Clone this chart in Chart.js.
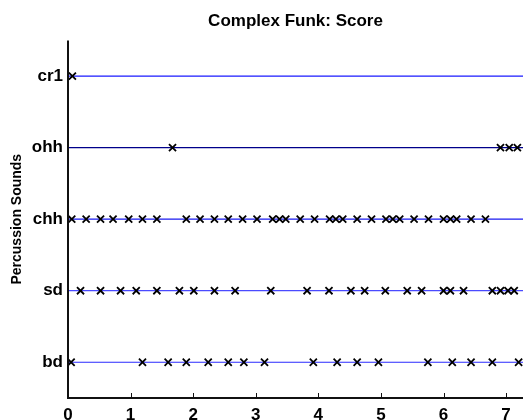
<!DOCTYPE html>
<html>
<head>
<meta charset="utf-8">
<script src="https://cdn.jsdelivr.net/npm/chart.js@4/dist/chart.umd.min.js"></script>
<style>
    html, body { margin: 0; padding: 0; background: #fff; }
    #wrap { width: 523px; height: 420px; position: relative; }
    #frame { position: absolute; left: 0; top: 0; pointer-events: none; }
</style>
</head>
<body>
<div id="wrap">
    <canvas id="scoreChart" width="523" height="420"></canvas>
    <canvas id="frame" width="523" height="420"></canvas>
</div>
<script>
// ---- Score data (time in seconds per instrument) ----
const sounds = ['bd', 'sd', 'chh', 'ohh', 'cr1'];
const xTicks = [0, 1, 2, 3, 4, 5, 6, 7];
const xMax = 7.27;

const bdHits = [0.05, 1.19, 1.60, 1.89, 2.24, 2.56, 2.81, 3.14, 3.92, 4.30, 4.62, 4.96, 5.75, 6.14, 6.44, 6.78, 7.20];
const sdHits = [0.20, 0.52, 0.84, 1.09, 1.42, 1.78, 2.01, 2.34, 2.67, 3.24, 3.82, 4.17, 4.52, 4.74, 5.07, 5.42, 5.65, 6.00, 6.11, 6.32, 6.78, 6.91, 7.03, 7.13];
const chhHits = [0.06, 0.29, 0.52, 0.72, 0.97, 1.19, 1.42, 1.89, 2.11, 2.34, 2.56, 2.79, 3.02, 3.27, 3.38, 3.48, 3.71, 3.94, 4.18, 4.28, 4.39, 4.62, 4.85, 5.08, 5.19, 5.30, 5.53, 5.76, 6.00, 6.11, 6.21, 6.44, 6.67];
const ohhHits = [1.67, 6.91, 7.05, 7.18];
const cr1Hits = [0.07];

const hitsBySound = [bdHits, sdHits, chhHits, ohhHits, cr1Hits];
const lineColors = ['#2a2aff', '#4a4aff', '#1a1af0', '#00008a', '#1a1aff'];

const FONT = 'Liberation Sans, Arial, Helvetica, sans-serif';
const datasets = [];

// horizontal guide line for each instrument
sounds.forEach((name, i) => {
    datasets.push({
        type: 'line',
        label: name + ' line',
        data: [{ x: 0, y: i + 1 }, { x: xMax, y: i + 1 }],
        borderColor: lineColors[i],
        borderWidth: 1.2,
        pointRadius: 0,
        order: 2
    });
});

// the hits themselves
sounds.forEach((name, i) => {
    datasets.push({
        type: 'scatter',
        label: name,
        data: hitsBySound[i].map(t => ({ x: t, y: i + 1 })),
        pointStyle: 'crossRot',
        pointRadius: 5,
        borderColor: '#000',
        backgroundColor: '#000',
        borderWidth: 1.8,
        order: 1
    });
});

// left/bottom axis lines and small inward ticks, positioned from the scales
const axisFrame = {
    id: 'axisFrame',
    afterRender(chart) {
        const canvas = document.getElementById('frame');
        const ctx = canvas.getContext('2d');
        const x = chart.scales.x;
        const y = chart.scales.y;
        const left = x.getPixelForValue(0);
        const right = x.getPixelForValue(xMax);
        const top = y.getPixelForValue(5.5);
        const bottom = Math.round(y.getPixelForValue(0.5));
        ctx.clearRect(0, 0, canvas.width, canvas.height);
        ctx.strokeStyle = '#111';
        ctx.lineWidth = 2;
        ctx.beginPath();
        ctx.moveTo(left, top);
        ctx.lineTo(left, bottom);
        ctx.stroke();
        ctx.beginPath();
        ctx.moveTo(left - 1, bottom);
        ctx.lineTo(right, bottom);
        ctx.stroke();
        ctx.lineWidth = 1;
        xTicks.forEach(v => {
            if (v === 0) return;
            const px = Math.round(x.getPixelForValue(v)) + 0.5;
            ctx.beginPath();
            ctx.moveTo(px, bottom);
            ctx.lineTo(px, bottom - 5);
            ctx.stroke();
        });
    }
};

new Chart(document.getElementById('scoreChart'), {
    data: { datasets },
    plugins: [axisFrame],
    options: {
        responsive: false,
        animation: false,
        layout: { padding: 0, autoPadding: false },
        plugins: {
            legend: { display: false },
            tooltip: { enabled: false },
            title: {
                display: true,
                fullSize: false,
                text: 'Complex Funk: Score',
                color: '#000',
                align: 'center',
                font: { family: FONT, size: 17, weight: 'bold', lineHeight: 1.2 },
                padding: { top: 11, bottom: 9 }
            }
        },
        scales: {
            x: {
                type: 'linear',
                min: 0,
                max: xMax,
                afterBuildTicks: s => { s.ticks = xTicks.map(v => ({ value: v })); },
                afterFit: s => { s.height = 22; s.paddingLeft = 0; s.paddingRight = 0; },
                grid: { display: false, drawTicks: false },
                border: { display: false },
                ticks: {
                    color: '#000',
                    padding: 7,
                    maxRotation: 0,
                    font: { family: FONT, size: 17, weight: 'bold' }
                }
            },
            y: {
                type: 'linear',
                min: 0.5,
                max: 5.5,
                afterBuildTicks: s => { s.ticks = sounds.map((_, i) => ({ value: i + 1 })); },
                afterFit: s => { s.width = 68; s.paddingTop = 0; s.paddingBottom = 0; },
                grid: { display: false, drawTicks: false },
                border: { display: false },
                ticks: {
                    color: '#000',
                    padding: 5,
                    callback: v => sounds[v - 1],
                    font: { family: FONT, size: 17, weight: 'bold' }
                },
                title: {
                    display: true,
                    text: 'Percussion Sounds',
                    color: '#000',
                    padding: { top: 9, bottom: 0 },
                    font: { family: FONT, size: 14, weight: 'bold' }
                }
            }
        }
    }
});
</script>
</body>
</html>
